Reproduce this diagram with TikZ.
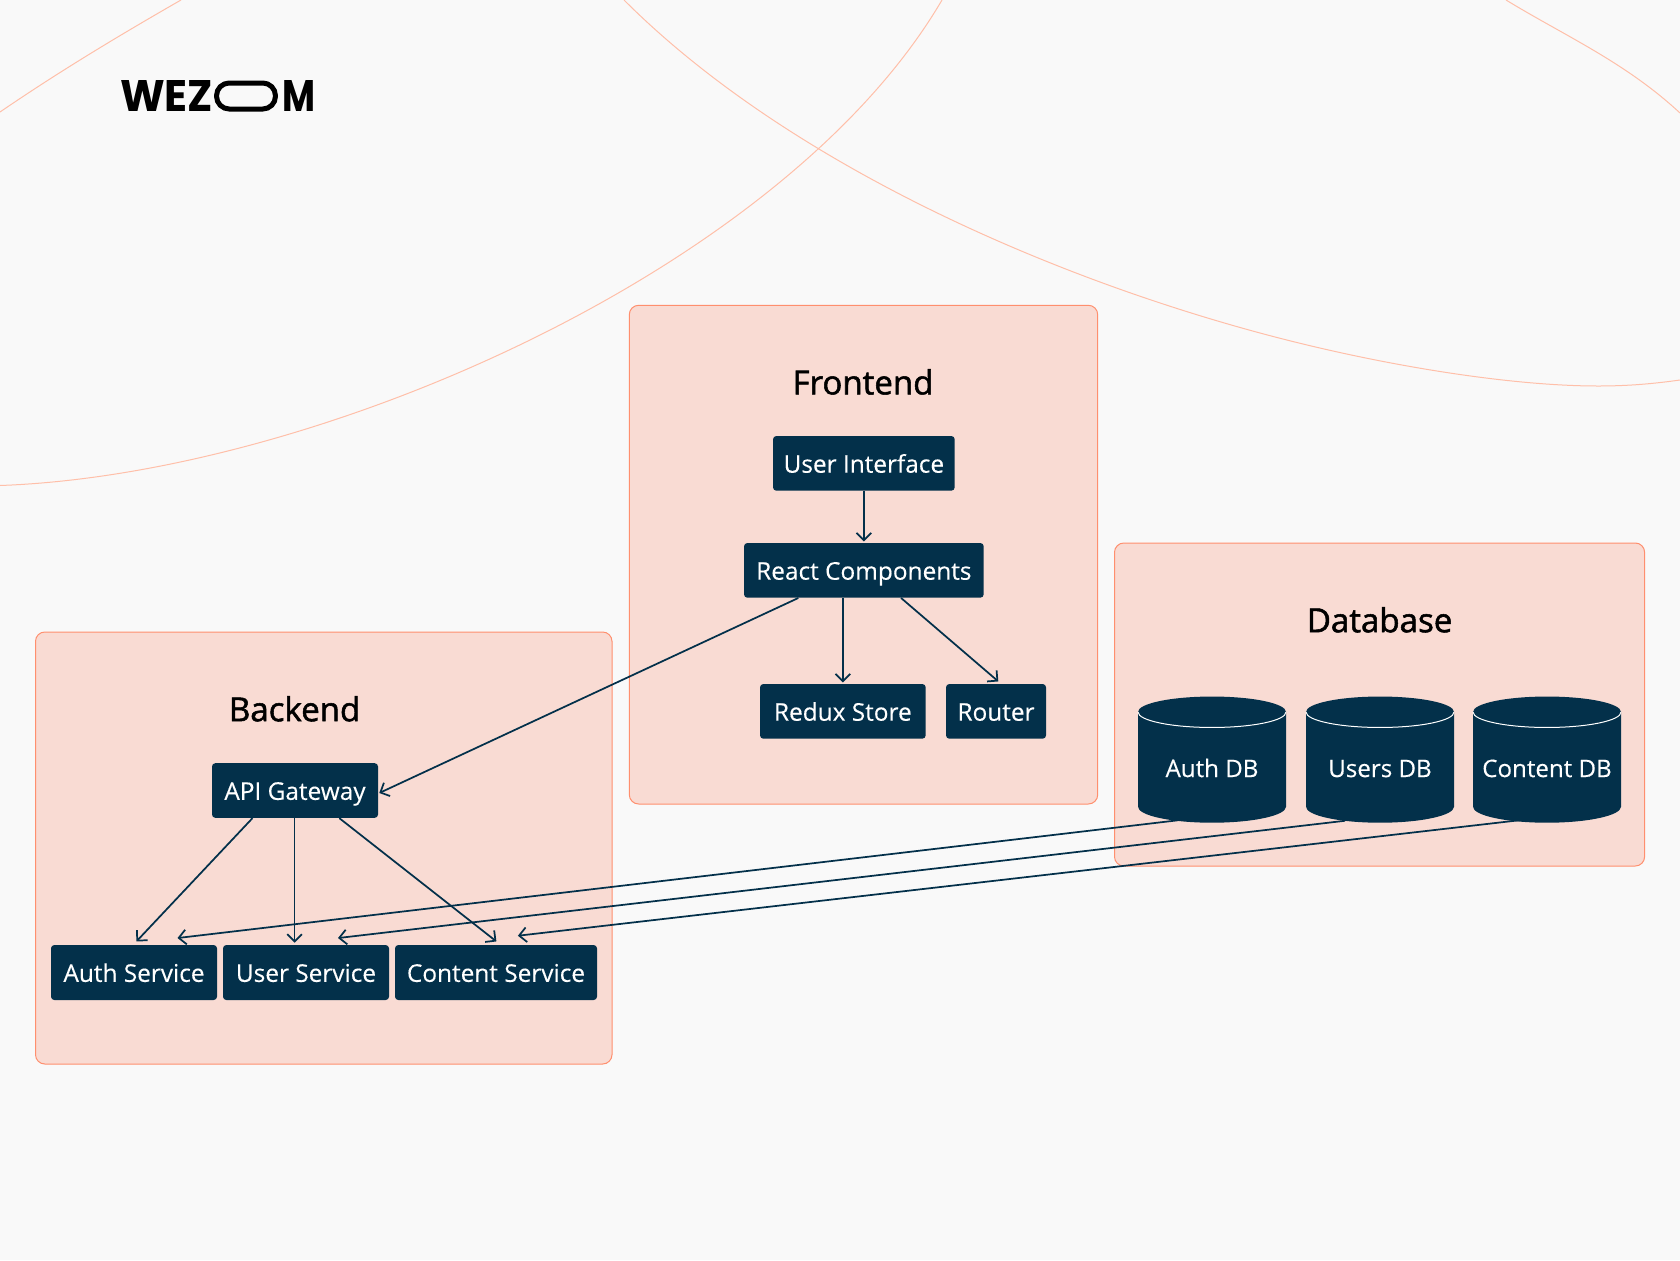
\documentclass[tikz,border=0pt]{standalone}
\usepackage{fontspec}
\setmainfont[FakeBold=0.25]{Open Sans}
\newfontfamily\titlefont[FakeBold=1.6]{Open Sans}
\newfontfamily\logofont{Poppins}
\usetikzlibrary{arrows.meta}
\definecolor{pagebg}{HTML}{F9F9F9}
\definecolor{navy}{HTML}{03304A}
\definecolor{groupfill}{HTML}{F9DBD3}
\definecolor{groupline}{HTML}{FF8F6E}
\definecolor{curveline}{HTML}{FFBFA9}
\tikzset{
  sz/.style 2 args={minimum width=#1*0.75pt,minimum height=#2*0.75pt},
  groupbox/.style={draw=groupline,fill=groupfill,line width=0.75pt,rounded corners=7pt,inner sep=0pt},
  svc/.style={fill=navy,text=white,rounded corners=2.5pt,inner sep=0pt,font=\fontsize{18.3pt}{22pt}\selectfont,text height=14pt,text depth=0pt},
  dbnode/.style={text=white,inner sep=0pt,minimum width=111pt,minimum height=94.5pt,font=\fontsize{18.1pt}{22pt}\selectfont,text height=26pt,text depth=0pt},
  grouptitle/.style={inner sep=0pt,text=black,font=\titlefont\fontsize{24.8pt}{30pt}\selectfont,text height=17.8pt,text depth=0pt},
  arr/.style={draw=navy,line width=1.3pt,-{Straight Barb[length=5.5pt,width=11pt]}},
  curve/.style={draw=curveline,line width=0.75pt},
  dbtop/.style={draw=white,line width=0.75pt}
}
\begin{document}
\begin{tikzpicture}[x=0.75pt,y=-0.75pt]
\useasboundingbox (0,0) rectangle (1680,1260);
\fill[pagebg] (0,0) rectangle (1680,1260);
\begin{scope}
\clip (0,0) rectangle (1680,1260);
\draw[curve] (0,485.5) .. controls (320,474) and (785,268) .. (942,0);
\draw[curve] (0,112) .. controls (60,71) and (120,35) .. (181,0);
\draw[curve] (624,0) .. controls (784,160) and (1040,273.6) .. (1260,333)
  .. controls (1380,365.4) and (1510,386) .. (1598,386)
  .. controls (1630,386) and (1655,383.5) .. (1680,380);
\draw[curve] (1506,0) .. controls (1565,36) and (1625,62) .. (1680,113);
\end{scope}

% logo
\node[anchor=south west,inner sep=0pt] (logowez) at (120,112) {\resizebox{69.75pt}{23.25pt}{\logofont\bfseries WEZ}};
\node[draw=black,line width=3.75pt,rounded corners=9.5pt,inner sep=0pt,minimum width=44.2pt,minimum height=19.5pt] (logopill) at (246,96) {};
\node[anchor=south west,inner sep=0pt] (logom) at (282,112) {\resizebox{24.75pt}{23.25pt}{\logofont\bfseries M}};

% groups
\node[groupbox,sz={468.4}{498.7}] (frontendgroup) at (863.5,554.65) {};
\node[groupbox,sz={530.1}{323}] (databasegroup) at (1379.55,704.5) {};
\node[groupbox,sz={576.5}{432}] (backendgroup) at (323.75,848) {};

\node[grouptitle] (frontendtitle) at (863,382.5) {Frontend};
\node[grouptitle] (databasetitle) at (1379.6,620.3) {Database};
\node[grouptitle] (backendtitle) at (294.6,709.3) {Backend};

% service boxes
\node[svc,sz={181.7}{54.7}] (ui) at (863.85,463.35) {User Interface};
\node[svc,sz={239.7}{54.7}] (react) at (863.85,570.35) {React Components};
\node[svc,sz={165.7}{54.7}] (redux) at (842.85,711.35) {Redux Store};
\node[svc,sz={100}{54.7}] (router) at (996,711.35) {Router};
\node[svc,sz={166}{54.7}] (api) at (295,790.5) {API Gateway};
\node[svc,sz={166}{55}] (auth) at (134,972.5) {Auth Service};
\node[svc,sz={166}{55}] (user) at (306,972.5) {User Service};
\node[svc,sz={202}{55}] (content) at (496,972.5) {Content Service};

% databases
\foreach \nm/\xc/\lbl in {authdb/1212/Auth DB,usersdb/1380/Users DB,contentdb/1547/Content DB}{
  \fill[navy] (\xc-74,712) arc[start angle=180,end angle=0,x radius=55.5pt,y radius=11.6pt]
    -- (\xc+74,806.7) arc[start angle=0,end angle=-180,x radius=55.5pt,y radius=12pt] -- cycle;
  \draw[dbtop] (\xc-74,712) arc[start angle=180,end angle=360,x radius=55.5pt,y radius=11.6pt];
  \node[dbnode] (\nm) at (\xc,759.7) {\lbl};
}

% connectors
\draw[arr] (ui.south) -- ([shift={(0,-1.3)}]react.north);
\draw[arr] ([shift={(-21,0)}]react.south) -- ([shift={(0,-1.3)}]redux.north);
\draw[arr] ([shift={(37.2,0)}]react.south) -- ([shift={(2.3,-2.3)}]router.north);
\draw[arr] ([shift={(-65.5,0)}]react.south) -- ([shift={(1,2.5)}]api.east);
\draw[arr] ([shift={(-42.5,0)}]api.south) -- ([shift={(2.4,-3.3)}]auth.north);
\draw[arr] ([shift={(-0.4,0)}]api.south) -- ([shift={(-11.4,-2)}]user.north);
\draw[arr] ([shift={(44.3,0)}]api.south) -- ([shift={(0.4,-3.3)}]content.north);
\draw[arr] ([shift={(-34,-2.7)}]authdb.south) -- ([shift={(43.5,-6.7)}]auth.north);
\draw[arr] ([shift={(-35,-2.2)}]usersdb.south) -- ([shift={(32,-6.7)}]user.north);
\draw[arr] ([shift={(-28,-2.7)}]contentdb.south) -- ([shift={(21.9,-9)}]content.north);
\end{tikzpicture}
\end{document}
